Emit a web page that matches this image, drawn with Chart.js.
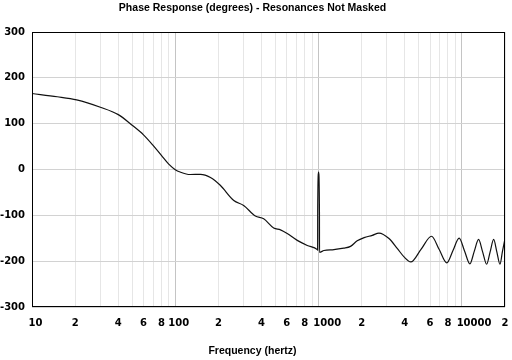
<!DOCTYPE html>
<html>
<head>
<meta charset="utf-8">
<script src="https://cdn.jsdelivr.net/npm/chart.js@4"></script>
<style>
html,body{margin:0;padding:0;background:#fff}
#wrap{width:512px;height:360px;position:relative}
</style>
</head>
<body>
<div id="wrap"><canvas id="c"></canvas></div>
<script>
const chartTitle = 'Phase Response (degrees) - Resonances Not Masked';
const xAxisTitle = 'Frequency (hertz)';

const freqHz = [10, 15, 20.5, 30, 40, 50, 60, 70, 80, 90,
  100, 108, 127, 150, 176, 206, 256, 300, 362, 414,
  486, 542, 604, 710, 834, 980, 985, 986, 1000, 1014,
  1015, 1090, 1280, 1500, 1670, 1860, 2080, 2370, 2640, 3100,
  3550, 3950, 4400, 5200, 6140, 6950, 7850, 8670, 9570, 10440,
  11380, 12200, 13080, 13960, 14890, 15750, 16670, 17540, 18450, 19200,
  20000];
const phaseDeg = [166, 159, 152, 136, 120, 97, 76, 53, 31, 12,
  0, -5, -10.5, -10, -17, -34, -67, -78, -101, -107,
  -127, -131, -139, -154, -165, -174, -175, -91, -5, -91,
  -180, -176, -174, -171, -167, -155, -148, -143, -138, -150,
  -172, -190, -201, -173, -145, -174, -203, -176, -149, -177,
  -205, -178, -152, -179, -206, -179, -152, -179, -206, -178,
  -150];

const xTickValues = [10,20,30,40,50,60,70,80,90,100,200,300,400,500,600,700,800,900,1000,2000,3000,4000,5000,6000,7000,8000,9000,10000,20000];
const xTickLabels = ['10','2','','4','','6','','8','','100','2','','4','','6','','8','','1000','2','','4','','6','','8','','10000','2'];
const yTickValues = [-300,-200,-100,0,100,200,300];
const yTickLabels = ['-300','-200','-100','0','100','200','300'];

// leading spaces used to nudge the decade labels right of their tick, as in the original
const xLabelNudge = {'10': 2, '100': 2, '1000': 5, '10000': 7};

const tickFont = {family: 'DejaVu Sans', weight: 'bold', size: 10};
const titleFont = {family: 'Liberation Sans', weight: 'bold', size: 10.5};

const framePlugin = {
  id: 'frame',
  afterDraw(chart) {
    const {ctx, chartArea: a} = chart;
    ctx.save();
    ctx.strokeStyle = '#000';
    ctx.lineWidth = 1;
    const l = Math.floor(a.left) + 0.5, t = Math.floor(a.top) + 0.5;
    const r = Math.floor(a.right) - 0.5, b = Math.floor(a.bottom) - 0.5;
    ctx.strokeRect(l, t, r - l, b - t);
    ctx.restore();
  }
};

new Chart(document.getElementById('c'), {
  type: 'line',
  data: {
    datasets: [{
      data: freqHz.map((f, i) => ({x: f, y: phaseDeg[i]})),
      borderColor: '#111',
      borderWidth: 1.2,
      pointRadius: 0,
      fill: false,
      cubicInterpolationMode: 'monotone'
    }]
  },
  options: {
    responsive: true,
    maintainAspectRatio: false,
    animation: false,
    devicePixelRatio: 1,
    layout: {padding: {left: 0, right: 7, top: 0, bottom: 0}},
    plugins: {
      legend: {display: false},
      tooltip: {enabled: false},
      title: {display: true, text: chartTitle, color: '#000', font: titleFont, padding: {top: 2, bottom: 17.4}},
      subtitle: {display: true, position: 'bottom', text: xAxisTitle, color: '#000', font: titleFont, padding: {top: 0, bottom: 3}}
    },
    scales: {
      x: {
        type: 'logarithmic',
        min: 10,
        max: 20000,
        afterBuildTicks: s => { s.ticks = xTickValues.map(v => ({value: v})); },
        afterFit: s => { s.height = 37; s.paddingLeft = 0; s.paddingRight = 0; },
        border: {display: false},
        grid: {
          drawTicks: false,
          lineWidth: 1,
          color: ctx => (xTickLabels[ctx.index] && xTickLabels[ctx.index].length > 1) ? '#c4c4c4' : '#e6e6e6'
        },
        ticks: {
          autoSkip: false, maxRotation: 0, minRotation: 0, padding: 10,
          color: '#000', font: tickFont,
          callback: (v, i) => {
            const lab = xTickLabels[i];
            return ' '.repeat(xLabelNudge[lab] || 0) + lab;
          }
        }
      },
      y: {
        min: -300,
        max: 300,
        afterBuildTicks: s => { s.ticks = yTickValues.map(v => ({value: v})); },
        afterFit: s => { s.width = 32; },
        border: {display: false},
        grid: {drawTicks: false, color: '#d2d2d2', lineWidth: 1},
        ticks: {
          padding: 7, color: '#000', font: tickFont,
          callback: (v, i) => yTickLabels[i]
        }
      }
    }
  },
  plugins: [framePlugin]
});
</script>
</body>
</html>
